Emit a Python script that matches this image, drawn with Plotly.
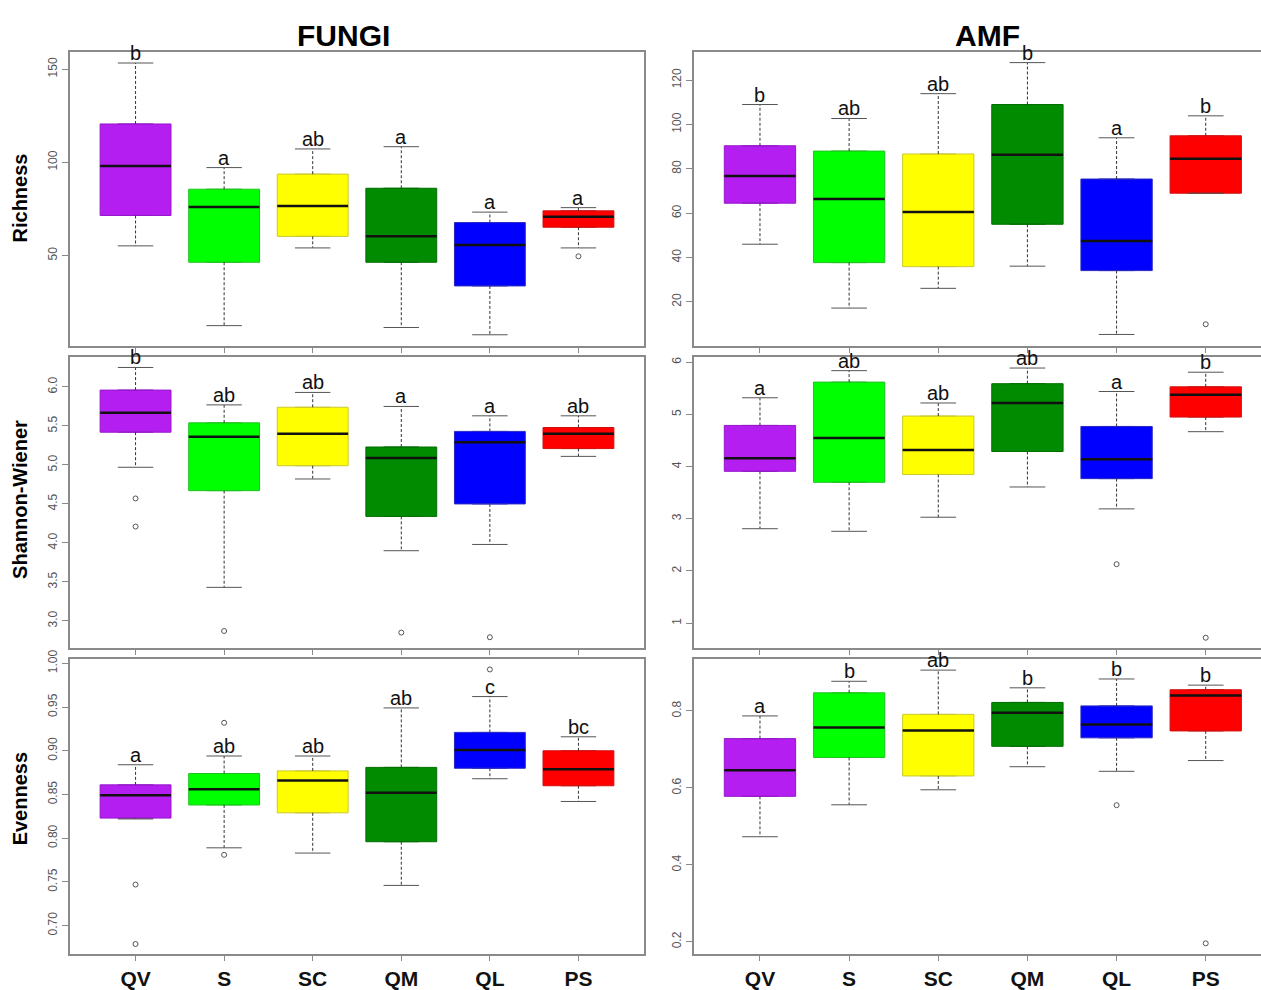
import plotly.graph_objects as go

W, H = 1261, 990

groups = ["QV", "S", "SC", "QM", "QL", "PS"]
box_colors = ["#B41EF0", "#00FF00", "#FFFF00", "#008B00", "#0000FF", "#FF0000"]
box_borders = ["#9418C8", "#1FC41F", "#C8C832", "#006E00", "#2A2AC0", "#D01010"]

# ---------------- FUNGI : Richness ----------------
fr_low = [55.2, 12.4, 54.1, 11.4, 7.5, 54.1]
fr_q1 = [71.5, 46.4, 60.3, 46.4, 33.7, 65.2]
fr_med = [98.1, 76.1, 76.6, 60.3, 55.7, 70.8]
fr_q3 = [120.6, 85.6, 93.7, 86.1, 67.7, 74.0]
fr_high = [153.3, 97.2, 107.2, 108.4, 73.3, 75.7]
fr_out_g = ["PS"]
fr_out_v = [49.6]
fr_letters = ["b", "a", "ab", "a", "a", "a"]
fr_ticks = [50, 100, 150]

# ---------------- FUNGI : Shannon-Wiener ----------------
fs_low = [4.97, 3.43, 4.82, 3.90, 3.98, 5.11]
fs_q1 = [5.42, 4.67, 4.99, 4.34, 4.50, 5.21]
fs_med = [5.67, 5.36, 5.40, 5.09, 5.29, 5.40]
fs_q3 = [5.96, 5.54, 5.74, 5.23, 5.43, 5.48]
fs_high = [6.25, 5.77, 5.93, 5.75, 5.63, 5.63]
fs_out_g = ["QV", "QV", "S", "QM", "QL"]
fs_out_v = [4.57, 4.21, 2.87, 2.85, 2.79]
fs_letters = ["b", "ab", "ab", "a", "a", "ab"]
fs_ticks = [3.0, 3.5, 4.0, 4.5, 5.0, 5.5, 6.0]

# ---------------- FUNGI : Evenness ----------------
fe_low = [0.822, 0.789, 0.783, 0.746, 0.868, 0.842]
fe_q1 = [0.823, 0.838, 0.829, 0.796, 0.880, 0.860]
fe_med = [0.849, 0.856, 0.866, 0.852, 0.901, 0.879]
fe_q3 = [0.861, 0.874, 0.877, 0.881, 0.921, 0.900]
fe_high = [0.884, 0.894, 0.894, 0.949, 0.962, 0.916]
fe_out_g = ["QV", "QV", "S", "S", "QL"]
fe_out_v = [0.747, 0.679, 0.932, 0.781, 0.993]
fe_letters = ["a", "ab", "ab", "ab", "c", "bc"]
fe_ticks = [0.70, 0.75, 0.80, 0.85, 0.90, 0.95, 1.00]

# ---------------- AMF : Richness ----------------
ar_low = [46.0, 17.2, 26.1, 36.1, 5.3, 69.0]
ar_q1 = [64.5, 37.7, 35.9, 55.0, 34.1, 69.0]
ar_med = [76.8, 66.4, 60.5, 86.4, 47.5, 84.6]
ar_q3 = [90.4, 88.0, 86.7, 109.0, 75.4, 94.9]
ar_high = [109.0, 102.7, 113.9, 127.9, 94.0, 103.9]
ar_out_g = ["PS"]
ar_out_v = [9.9]
ar_letters = ["b", "ab", "ab", "b", "a", "b"]
ar_ticks = [20, 40, 60, 80, 100, 120]

# ---------------- AMF : Shannon-Wiener ----------------
as_low = [2.81, 2.76, 3.03, 3.61, 3.19, 4.67]
as_q1 = [3.91, 3.70, 3.85, 4.29, 3.77, 4.95]
as_med = [4.16, 4.55, 4.32, 5.22, 4.14, 5.38]
as_q3 = [4.79, 5.62, 4.97, 5.59, 4.77, 5.53]
as_high = [5.32, 5.84, 5.22, 5.89, 5.44, 5.81]
as_out_g = ["QL", "PS"]
as_out_v = [2.13, 0.72]
as_letters = ["a", "ab", "ab", "ab", "a", "b"]
as_ticks = [1, 2, 3, 4, 5, 6]

# ---------------- AMF : Evenness ----------------
ae_low = [0.473, 0.556, 0.595, 0.655, 0.643, 0.671]
ae_q1 = [0.578, 0.679, 0.631, 0.708, 0.730, 0.748]
ae_med = [0.646, 0.757, 0.749, 0.795, 0.765, 0.840]
ae_q3 = [0.728, 0.847, 0.791, 0.822, 0.813, 0.855]
ae_high = [0.787, 0.877, 0.906, 0.860, 0.883, 0.867]
ae_out_g = ["QL", "PS"]
ae_out_v = [0.555, 0.196]
ae_letters = ["a", "b", "ab", "b", "b", "b"]
ae_ticks = [0.2, 0.4, 0.6, 0.8]

column_titles = ["FUNGI", "AMF"]
row_titles = ["Richness", "Shannon-Wiener", "Evenness"]

# ---------------- layout geometry ----------------
def px_x(p):
    return p / W

def px_y(p):
    return 1 - p / H

left_dom = [px_x(70), px_x(644)]
right_dom = [px_x(694), 1.0]
row_doms = [[px_y(343), px_y(44)], [px_y(651), px_y(354)], [px_y(963), px_y(662)]]

panels = [
    dict(low=fr_low, q1=fr_q1, med=fr_med, q3=fr_q3, high=fr_high, og=fr_out_g, ov=fr_out_v,
         let=fr_letters, ticks=fr_ticks, fmt="{:.0f}", yr=[1.6, 159.1], col=0, row=0),
    dict(low=ar_low, q1=ar_q1, med=ar_med, q3=ar_q3, high=ar_high, og=ar_out_g, ov=ar_out_v,
         let=ar_letters, ticks=ar_ticks, fmt="{:.0f}", yr=[0.2, 132.6], col=1, row=0),
    dict(low=fs_low, q1=fs_q1, med=fs_med, q3=fs_q3, high=fs_high, og=fs_out_g, ov=fs_out_v,
         let=fs_letters, ticks=fs_ticks, fmt="{:.1f}", yr=[2.65, 6.39], col=0, row=1),
    dict(low=as_low, q1=as_q1, med=as_med, q3=as_q3, high=as_high, og=as_out_g, ov=as_out_v,
         let=as_letters, ticks=as_ticks, fmt="{:.0f}", yr=[0.52, 6.11], col=1, row=1),
    dict(low=fe_low, q1=fe_q1, med=fe_med, q3=fe_q3, high=fe_high, og=fe_out_g, ov=fe_out_v,
         let=fe_letters, ticks=fe_ticks, fmt="{:.2f}", yr=[0.667, 1.005], col=0, row=2),
    dict(low=ae_low, q1=ae_q1, med=ae_med, q3=ae_q3, high=ae_high, og=ae_out_g, ov=ae_out_v,
         let=ae_letters, ticks=ae_ticks, fmt="{:.1f}", yr=[0.167, 0.935], col=1, row=2),
]

BOXW = 0.8
CAPW = 0.4
positions = list(range(1, len(groups) + 1))
pos_of = {g: p for g, p in zip(groups, positions)}

fig = go.Figure()
annotations = []
frame_col = "#8a8a8a"

for k, p in enumerate(panels):
    idx = k + 1
    xa = "x" if idx == 1 else f"x{idx}"
    ya = "y" if idx == 1 else f"y{idx}"
    xkey = "xaxis" if idx == 1 else f"xaxis{idx}"
    ykey = "yaxis" if idx == 1 else f"yaxis{idx}"

    # whiskers (dashed) first so boxes sit on top
    wx, wy = [], []
    for i, x in enumerate(positions):
        wx += [x, x, None, x, x, None]
        wy += [p["q3"][i], p["high"][i], None, p["q1"][i], p["low"][i], None]
    fig.add_trace(go.Scatter(x=wx, y=wy, mode="lines", xaxis=xa, yaxis=ya,
                             line=dict(color="#333333", width=1, dash="3px,2px"),
                             hoverinfo="skip", showlegend=False))
    # caps
    cx, cy = [], []
    for i, x in enumerate(positions):
        for v in (p["high"][i], p["low"][i]):
            cx += [x - CAPW / 2, x + CAPW / 2, None]
            cy += [v, v, None]
    fig.add_trace(go.Scatter(x=cx, y=cy, mode="lines", xaxis=xa, yaxis=ya,
                             line=dict(color="#555555", width=1),
                             hoverinfo="skip", showlegend=False))
    # boxes
    for i, x in enumerate(positions):
        fig.add_trace(go.Box(x=[x], q1=[p["q1"][i]], median=[p["med"][i]], q3=[p["q3"][i]],
                             lowerfence=[p["q1"][i]], upperfence=[p["q3"][i]],
                             width=BOXW, fillcolor=box_colors[i],
                             line=dict(color=box_borders[i], width=1),
                             boxpoints=False, xaxis=xa, yaxis=ya,
                             hoverinfo="skip", showlegend=False))
    # medians
    mx, my = [], []
    for i, x in enumerate(positions):
        mx += [x - BOXW / 2, x + BOXW / 2, None]
        my += [p["med"][i], p["med"][i], None]
    fig.add_trace(go.Scatter(x=mx, y=my, mode="lines", xaxis=xa, yaxis=ya,
                             line=dict(color="#111111", width=2.5),
                             hoverinfo="skip", showlegend=False))
    # outliers
    fig.add_trace(go.Scatter(x=[pos_of[g] for g in p["og"]], y=p["ov"], mode="markers",
                             xaxis=xa, yaxis=ya,
                             marker=dict(symbol="circle-open", size=5, color="#555555",
                                         line=dict(width=1)),
                             hoverinfo="skip", showlegend=False))
    # letters
    for i, x in enumerate(positions):
        annotations.append(dict(x=x, y=p["high"][i], xref=xa, yref=ya, text=p["let"][i],
                                showarrow=False, yanchor="bottom", yshift=-3,
                                font=dict(size=20, color="#111111", family="Liberation Sans, Arial")))

    is_right = p["col"] == 1
    bottom = p["row"] == 2
    fig.layout[xkey] = dict(
        domain=right_dom if is_right else left_dom,
        range=[0.26, 6.62] if is_right else [0.26, 6.74],
        anchor=ya, tickmode="array", tickvals=positions,
        ticktext=[f"<b>{g}</b>" for g in groups],
        showticklabels=bottom, ticks="outside", ticklen=5, tickcolor=frame_col,
        tickfont=dict(size=21, color="#111111", family="Liberation Sans, Arial"),
        showline=True, mirror=True, linecolor=frame_col, linewidth=1.5,
        showgrid=False, zeroline=False, fixedrange=True,
    )
    fig.layout[ykey] = dict(
        domain=row_doms[p["row"]], range=p["yr"], anchor=xa,
        tickmode="array", tickvals=p["ticks"], ticktext=[p["fmt"].format(t) for t in p["ticks"]],
        tickangle=-90, ticks="outside", ticklen=6, tickcolor=frame_col,
        tickfont=dict(size=12, color="#555555", family="Liberation Sans, Arial"),
        showline=True, mirror=not is_right, linecolor=frame_col, linewidth=1.5,
        showgrid=False, zeroline=False, fixedrange=True,
    )

# column titles
for t, xc in zip(column_titles, [344, 987]):
    annotations.append(dict(x=px_x(xc), y=px_y(27), xref="paper", yref="paper", text=f"<b>{t}</b>",
                            showarrow=False, xanchor="center", yanchor="middle",
                            font=dict(size=30, color="#000000", family="Liberation Sans, Arial")))
# row titles
for t, yc in zip(row_titles, [193, 500, 805]):
    annotations.append(dict(x=px_x(20), y=px_y(yc), xref="paper", yref="paper", text=f"<b>{t}</b>",
                            showarrow=False, xanchor="center", yanchor="middle", textangle=-90,
                            font=dict(size=20, color="#000000", family="Liberation Sans, Arial")))

fig.update_layout(
    width=W, height=H, autosize=False,
    margin=dict(l=0, r=0, t=0, b=0),
    paper_bgcolor="white", plot_bgcolor="white",
    boxmode="overlay", showlegend=False,
    annotations=annotations,
)

fig.write_html("out.html", config={"displayModeBar": False})
